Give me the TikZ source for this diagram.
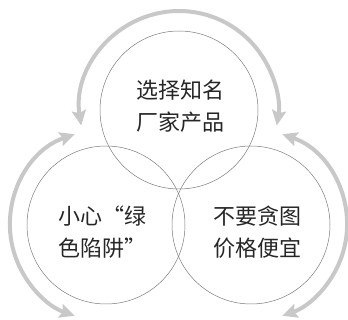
\documentclass[tikz,border=0pt]{standalone}
\usepackage{fontspec}
\newfontfamily\cjk{Noto Sans CJK SC}
\usetikzlibrary{arrows.meta}
\definecolor{arrowgray}{HTML}{C8C8C8}
\definecolor{ringgray}{HTML}{7A7A7A}
\definecolor{txt}{HTML}{262626}
\begin{document}
\begin{tikzpicture}[x=1pt,y=-1pt,
  ring/.style={draw=ringgray,line width=0.5pt},
  cyc/.style={draw=arrowgray,line width=4pt,{Stealth[length=15pt,width=14pt,inset=2.5pt]}-{Stealth[length=15pt,width=14pt,inset=2.5pt]}},
  lbl/.style={text=txt,align=center,inner sep=0pt,font=\cjk\fontsize{22}{32}\selectfont}]
\useasboundingbox (0,0) rectangle (348,320);
\coordinate (ct) at (179,110);
\coordinate (cl) at (106,225);
\coordinate (cr) at (251,225);
\draw[ring] (ct) circle[radius=79];
\draw[ring] (cl) circle[radius=79];
\draw[ring] (cr) circle[radius=79];
\draw[cyc] ([shift={(171:99)}]ct) arc[start angle=171,end angle=369,radius=99];
\draw[cyc] ([shift={(251:96)}]cl) arc[start angle=251,end angle=109,radius=96];
\draw[cyc] ([shift={(-71:96)}]cr) arc[start angle=-71,end angle=71,radius=96];
\node[lbl] (t) at (180,106) {选择知名\\厂家产品};
\node[lbl] (l) at (102,232) {小心“绿\\色陷阱”};
\node[lbl] (r) at (257,232) {不要贪图\\价格便宜};
\end{tikzpicture}
\end{document}
